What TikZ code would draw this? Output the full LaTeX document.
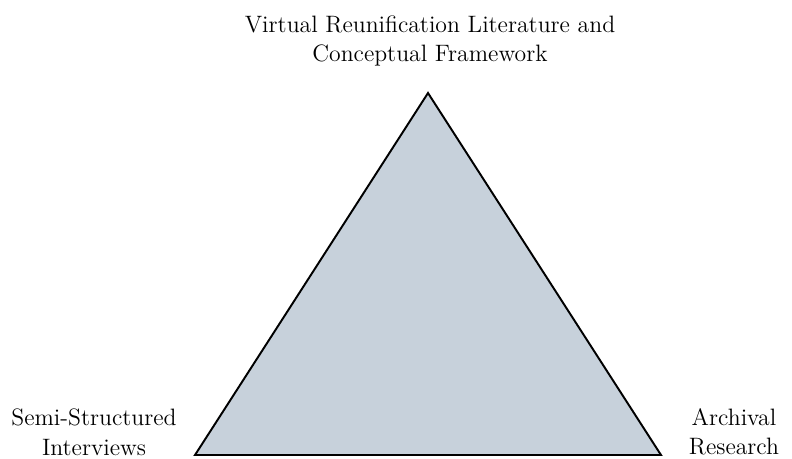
\documentclass[tikz,border=0pt]{standalone}
\usepackage{xcolor}
\usepackage{tikz}
\usetikzlibrary{positioning, calc}
\definecolor{trifill}{HTML}{C7D1DB}

\begin{document}
\begin{tikzpicture}[x=0.02cm, y=-0.02cm,
  tri/.style={draw=black, line width=1.1pt, fill=trifill, line join=miter},
  lbl/.style={align=center, font=\fontsize{13.5}{16.8}\selectfont, inner sep=0pt}]

  \useasboundingbox (0,0) rectangle (792,458);

  \coordinate (apex) at (428,93);
  \coordinate (left) at (195,455);
  \coordinate (right) at (661,455);

  \draw[tri] (apex) -- (left) -- (right) -- cycle;

  \node[lbl] (lit) at (430,41) {Virtual Reunification Literature and\\Conceptual Framework};
  \node[lbl] (interviews) at (94,432) {Semi-Structured\\Interviews};
  \node[lbl] (archive) at (734,432) {Archival\\Research};
\end{tikzpicture}
\end{document}
